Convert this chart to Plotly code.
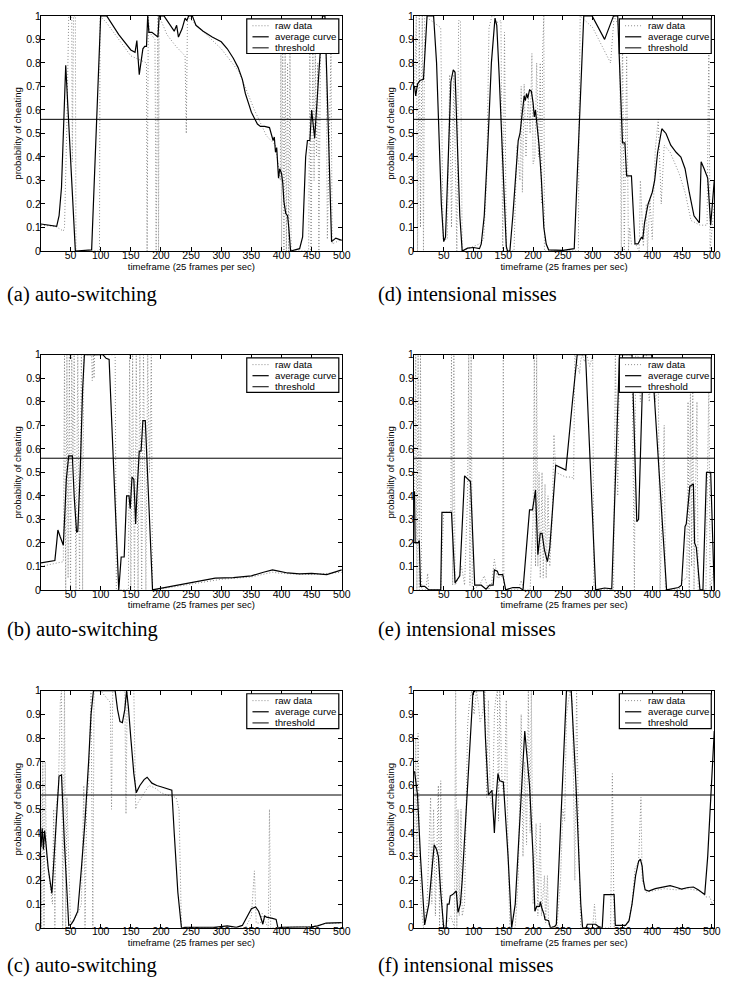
import plotly.graph_objects as go

# ---------------- data ----------------
threshold = 0.56
x_ticks = [50, 100, 150, 200, 250, 300, 350, 400, 450, 500]
y_ticks = [0, 0.1, 0.2, 0.3, 0.4, 0.5, 0.6, 0.7, 0.8, 0.9, 1]
y_tick_text = ["0", "0.1", "0.2", "0.3", "0.4", "0.5", "0.6", "0.7", "0.8", "0.9", "1"]
legend_names = ["raw data", "average curve", "threshold"]
captions = ["(a) auto-switching", "(b) auto-switching", "(c) auto-switching",
            "(d) intensional misses", "(e) intensional misses", "(f) intensional misses"]

a_avg = [(1,0.115),(27,0.105),(31,0.15),(35,0.27),(42,0.79),(50,0.4),(58,0.0),(85,0.005),(100,1.0),(110,1.0),
         (130,0.92),(150,0.855),(157,0.845),(160,0.895),(164,0.75),(170,0.86),(173,0.87),(176,0.87),(178,1.0),
         (180,0.93),(185,0.93),(195,0.91),(197,1.0),(205,1.0),(215,0.96),(222,0.935),(226,0.96),(229,0.91),
         (235,0.945),(240,0.99),(243,0.98),(246,1.0),(252,1.0),(258,0.96),(270,0.935),(285,0.91),(300,0.89),
         (310,0.86),(320,0.82),(328,0.78),(335,0.73),(340,0.67),(345,0.63),(350,0.59),(355,0.565),(360,0.54),
         (365,0.53),(372,0.53),(380,0.525),(383,0.5),(386,0.47),(388,0.485),(390,0.42),(392,0.44),(395,0.31),
         (397,0.35),(400,0.33),(402,0.29),(404,0.21),(407,0.16),(410,0.15),(412,0.1),(415,0.0),(430,0.01),
         (435,0.06),(440,0.4),(443,0.47),(447,0.47),(450,0.6),(452,0.55),(455,0.48),(457,0.56),(460,0.7),
         (465,0.88),(468,1.0),(472,1.0),(475,0.75),(479,0.4),(483,0.04),(490,0.055),(500,0.045)]
a_raw = [(1,0.11),(25,0.105),(38,0.085),(40,0.1),(44,0.55),(47,1.0),(52,1.0),(53,0.38),(55,1.0),(58,1.0),(59,0.0),
         (98,0.0),(99,1.0),(110,0.97),(150,0.83),(176,0.8),(177,0.0),(179,1.0),(181,0.93),(190,0.9),(192,0.0),
         (195,1.0),(196,0.0),(197,1.0),(210,0.92),(225,0.87),(240,0.83),(242,0.5),(244,1.0),(255,0.97),(300,0.86),
         (330,0.76),(355,0.6),(375,0.49),(390,0.45),(398,0.3),(399,0.9),(400,0.0),(402,0.85),(404,0.0),(406,0.85),
         (408,0.0),(410,0.8),(412,0.0),(414,0.85),(416,0.0),(445,0.0),(447,0.85),(449,0.0),(452,0.9),(454,0.3),
         (456,0.85),(458,0.4),(460,0.8),(462,0.0),(465,1.0),(470,1.0),(474,0.85),(476,0.05),(482,0.85),(484,0.03),
         (500,0.05)]

b_avg = [(1,0.115),(24,0.125),(27,0.2),(29,0.255),(33,0.225),(38,0.19),(41,0.35),(43,0.47),(47,0.57),(53,0.57),
         (56,0.4),(60,0.245),(62,0.25),(66,0.5),(70,0.85),(73,1.0),(104,1.0),(109,0.985),(114,0.98),(120,0.6),
         (125,0.3),(130,0.0),(134,0.14),(139,0.14),(143,0.4),(147,0.4),(149,0.345),(152,0.48),(155,0.47),
         (158,0.28),(160,0.4),(164,0.59),(167,0.59),(170,0.72),(174,0.72),(180,0.35),(186,0.0),(190,0.002),
         (250,0.03),(290,0.05),(320,0.052),(350,0.06),(370,0.075),(385,0.085),(395,0.08),(410,0.072),
         (430,0.068),(450,0.07),(475,0.065),(500,0.085)]
b_raw = [(1,0.1),(38,0.12),(40,1.0),(42,0.0),(44,1.0),(46,0.05),(48,1.0),(50,0.0),(52,1.0),(54,0.55),(56,1.0),
         (59,0.0),(62,1.0),(65,0.0),(68,1.0),(70,0.0),(72,1.0),(85,1.0),(86,0.89),(88,1.0),(89,0.9),(90,1.0),
         (115,1.0),(124,1.0),(126,0.0),(146,0.0),(148,1.0),(150,0.0),(153,1.0),(156,0.0),(159,1.0),(162,0.0),
         (165,1.0),(168,0.0),(171,1.0),(175,0.0),(178,1.0),(181,0.5),(184,1.0),(186,0.0),(190,0.0),(250,0.025),
         (300,0.045),(350,0.055),(385,0.075),(400,0.07),(450,0.065),(500,0.075)]

c_avg = [(1,0.34),(3,0.42),(5,0.33),(7,0.41),(9,0.36),(13,0.25),(19,0.145),(24,0.35),(31,0.64),(35,0.645),
         (40,0.35),(47,0.01),(51,0.015),(55,0.03),(62,0.07),(68,0.25),(74,0.45),(80,0.7),(84,0.9),(88,1.0),
         (124,1.0),(128,0.92),(132,0.87),(136,0.865),(140,0.92),(143,1.0),(146,0.93),(150,0.8),(155,0.65),
         (159,0.57),(165,0.6),(172,0.625),(177,0.635),(185,0.61),(193,0.6),(200,0.595),(207,0.59),(213,0.585),
         (218,0.58),(222,0.4),(228,0.15),(234,0.0),(240,0.002),(288,0.002),(300,0.006),(310,0.008),(318,0.005),
         (325,0.002),(335,0.01),(345,0.06),(350,0.08),(357,0.088),(362,0.07),(366,0.04),(369,0.015),(372,0.05),
         (375,0.045),(385,0.04),(391,0.035),(394,0.0),(400,0.002),(450,0.004),(460,0.008),(474,0.02),(500,0.022)]
c_raw = [(1,0.55),(2,0.0),(4,0.7),(6,0.0),(8,0.7),(10,0.3),(15,0.2),(20,0.1),(22,0.5),(24,0.0),(26,0.5),(30,0.6),
         (33,0.95),(35,1.0),(37,0.0),(40,1.0),(42,0.0),(44,0.55),(50,0.02),(60,0.05),(68,0.1),(72,0.6),(74,0.0),
         (77,0.55),(80,0.6),(84,1.0),(87,0.0),(89,1.0),(100,1.0),(110,0.97),(116,0.95),(118,0.5),(120,1.0),
         (140,1.0),(142,0.48),(144,1.0),(155,1.0),(158,0.5),(160,0.52),(170,0.56),(180,0.6),(190,0.59),
         (200,0.57),(210,0.56),(225,0.55),(230,0.5),(234,0.0),(340,0.0),(350,0.05),(355,0.24),(358,0.02),
         (365,0.02),(368,0.06),(372,0.03),(378,0.0),(380,0.5),(382,0.0),(400,0.002),(450,0.005),(475,0.018),
         (500,0.02)]

d_avg = [(1,0.70),(3,0.66),(6,0.71),(10,0.725),(16,0.73),(22,1.0),(33,1.0),(38,0.8),(42,0.5),(46,0.2),(50,0.04),
         (53,0.06),(57,0.35),(62,0.72),(66,0.77),(69,0.76),(73,0.45),(77,0.15),(81,0.0),(90,0.012),(100,0.015),
         (107,0.01),(110,0.01),(113,0.03),(118,0.15),(124,0.45),(130,0.8),(136,0.99),(139,0.96),(143,0.75),
         (148,0.45),(152,0.2),(155,0.02),(157,0.0),(161,0.0),(166,0.15),(171,0.35),(175,0.47),(178,0.5),
         (182,0.58),(185,0.66),(187,0.64),(189,0.67),(191,0.65),(194,0.685),(197,0.68),(200,0.63),(202,0.57),
         (204,0.6),(206,0.55),(210,0.45),(214,0.3),(218,0.1),(222,0.03),(226,0.005),(250,0.003),(269,0.01),
         (285,1.0),(299,1.0),(320,0.9),(335,1.0),(342,1.0),(350,0.46),(354,0.46),(357,0.32),(365,0.32),
         (371,0.03),(376,0.03),(382,0.06),(384,0.05),(387,0.12),(393,0.2),(400,0.25),(404,0.3),(409,0.42),
         (416,0.52),(423,0.5),(431,0.45),(440,0.42),(448,0.4),(455,0.35),(462,0.25),(470,0.15),(479,0.12),
         (482,0.38),(487,0.35),(493,0.31),(498,0.11),(504,0.3)]
d_raw = [(1,0.7),(4,1.0),(6,0.0),(9,1.0),(11,0.1),(14,1.0),(16,0.0),(18,1.0),(45,0.95),(49,0.05),(56,0.05),
         (60,0.75),(63,0.1),(67,0.75),(72,0.0),(75,0.98),(78,0.98),(81,0.0),(110,0.03),(117,0.05),(122,0.3),
         (126,0.95),(131,1.0),(135,1.0),(138,0.97),(146,0.98),(149,0.0),(152,0.93),(155,0.0),(168,0.0),(170,0.2),
         (173,0.45),(178,0.3),(180,0.7),(182,0.25),(185,0.71),(188,0.4),(192,0.66),(195,0.5),(198,0.84),
         (200,0.37),(203,0.4),(206,0.8),(209,0.4),(212,0.8),(214,0.2),(216,0.85),(218,1.0),(219,0.0),(276,0.0),
         (277,0.55),(279,1.0),(300,0.95),(330,0.8),(336,1.0),(345,0.95),(348,0.0),(350,0.93),(353,0.0),
         (357,0.83),(360,0.0),(362,0.1),(365,0.03),(372,0.03),(378,0.0),(380,0.3),(385,0.02),(390,0.2),
         (392,0.0),(396,0.22),(400,0.05),(405,0.43),(410,0.56),(415,0.2),(420,0.45),(430,0.42),(445,0.33),
         (455,0.25),(465,0.13),(480,0.11),(492,0.11),(495,0.92),(497,0.0),(504,0.2)]

e_avg = [(1,0.42),(2,0.2),(7,0.2),(9,0.21),(11,0.015),(18,0.015),(25,0.0),(45,0.0),(47,0.33),(63,0.33),
         (69,0.03),(77,0.06),(85,0.485),(95,0.46),(102,0.02),(113,0.02),(121,0.003),(127,0.02),(133,0.02),
         (135,0.085),(140,0.08),(142,0.065),(149,0.065),(154,0.0),(166,0.01),(177,0.01),(183,0.0),(194,0.34),
         (199,0.34),(204,0.425),(208,0.15),(212,0.24),(215,0.24),(219,0.17),(224,0.12),(228,0.18),(238,0.53),
         (255,0.51),(266,0.8),(274,1.0),(288,1.0),(305,0.0),(320,0.008),(332,0.005),(345,1.0),(366,1.0),
         (374,0.29),(377,0.3),(385,1.0),(399,1.0),(424,0.0),(444,0.01),(449,0.02),(455,0.27),(457,0.28),
         (463,0.44),(469,0.45),(471,0.2),(474,0.18),(480,0.0),(485,0.0),(491,0.5),(498,0.5),(504,0.0)]
e_raw = [(1,0.4),(3,1.0),(5,0.0),(7,1.0),(9,0.0),(11,1.0),(13,0.0),(20,0.0),(23,0.07),(25,0.0),(45,0.0),
         (50,0.33),(62,0.33),(63,1.0),(65,0.02),(67,1.0),(69,0.02),(75,0.05),(80,0.1),(85,0.02),(90,0.4),
         (92,1.0),(94,0.02),(96,1.0),(98,0.0),(110,0.02),(118,0.06),(125,0.0),(130,0.02),(135,0.13),(140,0.05),
         (149,0.06),(150,1.0),(151,0.0),(175,0.0),(180,0.04),(185,0.0),(195,0.0),(200,0.3),(202,1.0),(204,0.1),
         (206,1.0),(208,0.1),(210,0.5),(212,0.05),(215,0.5),(217,0.05),(220,0.45),(222,0.05),(225,0.4),
         (228,0.1),(232,0.3),(235,0.66),(238,0.5),(255,0.48),(265,0.48),(268,0.47),(270,1.0),(275,0.95),
         (278,0.92),(280,0.98),(283,1.0),(286,0.97),(290,1.0),(295,0.95),(300,1.0),(302,0.0),(335,0.0),
         (338,1.0),(342,0.4),(345,1.0),(366,1.0),(370,0.0),(372,1.0),(376,1.0),(380,0.8),(385,1.0),(390,1.0),
         (395,0.8),(400,1.0),(405,0.8),(410,0.9),(413,0.0),(420,0.7),(422,0.0),(445,0.0),(450,0.04),(458,0.05),
         (460,0.8),(462,0.0),(464,0.9),(466,0.1),(468,0.9),(470,0.0),(475,0.8),(477,0.0),(490,0.0),(495,0.9),
         (497,0.0),(504,0.1)]

f_avg = [(1,0.66),(6,0.56),(11,0.3),(18,0.012),(25,0.1),(34,0.35),(38,0.33),(41,0.3),(45,0.15),(48,0.05),
         (50,0.0),(54,0.0),(56,0.1),(59,0.1),(61,0.135),(65,0.14),(71,0.155),(74,0.065),(78,0.1),(81,0.2),
         (88,0.5),(95,0.85),(99,0.99),(103,1.0),(117,1.0),(120,0.8),(125,0.56),(131,0.58),(135,0.4),(138,0.55),
         (141,0.65),(144,0.62),(150,0.615),(158,0.3),(164,0.0),(170,0.1),(179,0.5),(186,0.83),(194,0.6),
         (200,0.3),(203,0.07),(206,0.09),(211,0.09),(212,0.11),(215,0.08),(218,0.06),(220,0.035),(226,0.03),
         (229,0.0),(236,0.005),(239,0.015),(244,0.3),(251,0.75),(256,1.0),(264,1.0),(272,0.6),(280,0.1),
         (283,0.0),(289,0.0),(291,0.015),(305,0.015),(310,0.005),(316,0.0),(319,0.14),(336,0.14),(338,0.01),
         (355,0.01),(361,0.03),(366,0.1),(372,0.22),(377,0.28),(380,0.29),(383,0.26),(385,0.2),(388,0.16),
         (394,0.155),(405,0.165),(421,0.175),(430,0.178),(441,0.17),(449,0.163),(460,0.17),(469,0.172),
         (477,0.16),(488,0.14),(493,0.3),(498,0.55),(504,0.83)]
f_raw = [(1,0.3),(3,0.8),(5,0.3),(7,0.82),(9,0.35),(12,0.1),(16,0.0),(22,0.1),(28,0.55),(30,0.1),(33,0.5),
         (36,0.05),(41,0.6),(43,0.0),(45,0.62),(48,0.0),(55,0.02),(62,0.05),(68,0.0),(70,1.0),(72,0.0),(74,0.5),
         (76,0.05),(79,0.5),(81,0.05),(85,0.1),(90,0.85),(93,0.95),(97,1.0),(101,0.9),(105,1.0),(108,0.95),
         (111,0.87),(115,0.9),(119,1.0),(122,0.55),(125,0.96),(128,0.55),(132,0.5),(135,0.9),(137,0.96),
         (140,1.0),(142,0.45),(144,1.0),(148,0.6),(152,0.55),(155,0.96),(158,0.3),(161,0.0),(170,0.0),
         (175,0.2),(180,0.9),(183,0.3),(186,0.7),(189,0.35),(192,1.0),(195,0.4),(197,1.0),(200,0.1),(205,0.44),
         (208,0.05),(212,0.44),(214,0.05),(219,0.22),(221,0.02),(224,0.22),(226,0.01),(240,0.0),(246,0.2),
         (250,0.5),(253,0.45),(256,0.9),(262,1.0),(266,0.95),(270,0.2),(273,1.0),(277,0.3),(280,0.0),
         (300,0.0),(303,0.1),(306,0.0),(330,0.0),(333,0.65),(336,0.0),(350,0.0),(360,0.02),(366,0.1),
         (371,0.25),(377,0.28),(381,0.55),(383,0.2),(390,0.15),(400,0.155),(420,0.165),(440,0.16),(460,0.165),
         (480,0.155),(490,0.13),(497,0.13),(500,0.1),(504,0.12)]

# ---------------- layout geometry ----------------
W, H = 744, 999
col_px = [(41.5, 346.0), (419.0, 723.0)]
row_px = [(10, 248), (353, 591), (693, 933)]
x_ranges = [(1, 500), (0, 504)]
caption_y = [292, 631, 971]
caption_x = [5, 381]

panels = [
    (a_avg, a_raw, 0, 0), (b_avg, b_raw, 0, 1), (c_avg, c_raw, 0, 2),
    (d_avg, d_raw, 1, 0), (e_avg, e_raw, 1, 1), (f_avg, f_raw, 1, 2),
]

RAW_COLOR = "#8c8c8c"
RAW_DASH = "1px,2px"
SANS = "Liberation Sans, Arial, sans-serif"
SERIF = "Liberation Serif, Times New Roman, serif"

fig = go.Figure()
shapes, annotations = [], []
layout = {}

for i, (avg, raw, col, row) in enumerate(panels):
    n = i + 1
    xs = "" if n == 1 else str(n)
    xr = x_ranges[col]
    rx, ry = zip(*raw)
    ax, ay = zip(*avg)
    fig.add_trace(go.Scatter(x=list(rx), y=list(ry), mode="lines", name=legend_names[0],
                             line=dict(color=RAW_COLOR, width=1, dash=RAW_DASH),
                             xaxis="x" + xs, yaxis="y" + xs, showlegend=False))
    fig.add_trace(go.Scatter(x=list(ax), y=list(ay), mode="lines", name=legend_names[1],
                             line=dict(color="black", width=1.2),
                             xaxis="x" + xs, yaxis="y" + xs, showlegend=False))
    fig.add_trace(go.Scatter(x=[xr[0], xr[1]], y=[threshold, threshold], mode="lines",
                             name=legend_names[2], line=dict(color="black", width=1),
                             xaxis="x" + xs, yaxis="y" + xs, showlegend=False))

    x0p, x1p = col_px[col]
    t, b = row_px[row]
    common = dict(showline=True, linecolor="black", linewidth=1, mirror="ticks",
                  ticks="inside", ticklen=4, tickcolor="black", tickwidth=1,
                  showgrid=False, zeroline=False,
                  tickfont=dict(family=SANS, size=10.5, color="black"))
    layout["xaxis" + xs] = dict(common, domain=[x0p / W, x1p / W], range=list(xr),
                                anchor="y" + xs, tickvals=x_ticks, ticklabelstandoff=-6,
                                title=dict(text="timeframe (25 frames per sec)", standoff=0,
                                           font=dict(family=SANS, size=9.5, color="black")))
    layout["yaxis" + xs] = dict(common, domain=[1 - b / H, 1 - t / H], range=[0, 1],
                                anchor="x" + xs, tickvals=y_ticks, ticktext=y_tick_text,
                                ticklabelstandoff=-3,
                                title=dict(text="probability of cheating", standoff=2,
                                           font=dict(family=SANS, size=9.5, color="black")))

    # legend box (drawn in the axis-domain frame)
    xref, yref = "x" + xs + " domain", "y" + xs + " domain"
    shapes.append(dict(type="rect", xref=xref, yref=yref, x0=0.684, x1=0.99, y0=0.84, y1=0.987,
                       line=dict(color="black", width=1.2), fillcolor="white", layer="above"))
    row_y = [0.958, 0.911, 0.864]
    styles = [dict(color=RAW_COLOR, width=1, dash=RAW_DASH), dict(color="black", width=1.2),
              dict(color="black", width=1)]
    for k in range(3):
        shapes.append(dict(type="line", xref=xref, yref=yref, x0=0.703, x1=0.757,
                           y0=row_y[k], y1=row_y[k], line=styles[k], layer="above"))
        annotations.append(dict(xref=xref, yref=yref, x=0.772, y=row_y[k], text=legend_names[k],
                                showarrow=False, xanchor="left", yanchor="middle",
                                font=dict(family=SANS, size=9.7, color="black")))

    annotations.append(dict(xref="paper", yref="paper", x=caption_x[col] / W,
                            y=1 - caption_y[row] / H, text=captions[i], showarrow=False,
                            xanchor="left", yanchor="middle",
                            font=dict(family=SERIF, size=20.5, color="black")))

fig.update_layout(width=W, height=H, margin=dict(l=0, r=0, t=0, b=0),
                  paper_bgcolor="white", plot_bgcolor="white", showlegend=False,
                  shapes=shapes, annotations=annotations, **layout)

fig.write_html("out.html")
